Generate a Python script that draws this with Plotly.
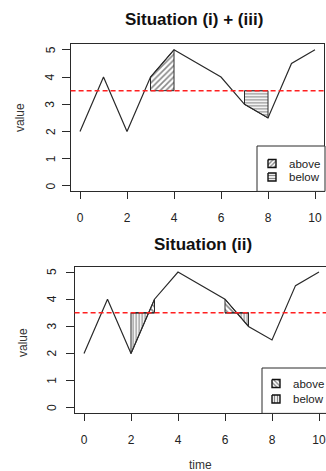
import plotly.graph_objects as go

# ---- data ----
time = [0, 1, 2, 3, 4, 5, 6, 7, 8, 9, 10]
value = [2, 4, 2, 4, 5, 4.5, 4, 3, 2.5, 4.5, 5]
threshold = 3.5
x_ticks = [0, 2, 4, 6, 8, 10]
y_ticks = [0, 1, 2, 3, 4, 5]

# shading intervals
top_above = [(3, 4)]
top_below = [(7, 8)]
bottom_intervals = [(2, 3), (6, 7)]

titles = ["Situation (i) + (iii)", "Situation (ii)"]
legend_labels = ["above", "below"]

W, H = 326, 471
FONT = "Liberation Sans, Arial, sans-serif"
LINE = "#2a2a2a"


def region(t0, t1, side):
    pts = [(t, v) for t, v in zip(time, value) if t0 <= t <= t1]
    seq = []
    for (ta, va), (tb, vb) in zip(pts[:-1], pts[1:]):
        seq.append((ta, va))
        if (va - threshold) * (vb - threshold) < 0:
            tc = ta + (threshold - va) * (tb - ta) / (vb - va)
            seq.append((tc, threshold))
    seq.append(pts[-1])
    if side == "above":
        seq = [(t, max(v, threshold)) for t, v in seq]
    else:
        seq = [(t, min(v, threshold)) for t, v in seq]
    poly = [(t0, threshold)] + seq + [(t1, threshold), (t0, threshold)]
    return [p[0] for p in poly], [p[1] for p in poly]


def pat(shape, size, sol=0.4):
    return dict(shape=shape, fgcolor="#111111", bgcolor="rgba(0,0,0,0)",
                size=size, solidity=sol)


fig = go.Figure()

# ---- top panel ----
for t0, t1 in top_above:
    xs, ys = region(t0, t1, "above")
    fig.add_trace(go.Scatter(x=xs, y=ys, mode="lines", fill="toself",
                             fillcolor="rgba(0,0,0,0)", fillpattern=pat("/", 4),
                             line=dict(color=LINE, width=1), xaxis="x", yaxis="y",
                             showlegend=False, hoverinfo="skip"))
for t0, t1 in top_below:
    xs, ys = region(t0, t1, "below")
    fig.add_trace(go.Scatter(x=xs, y=ys, mode="lines", fill="toself",
                             fillcolor="rgba(0,0,0,0)", fillpattern=pat("-", 3),
                             line=dict(color=LINE, width=1), xaxis="x", yaxis="y",
                             showlegend=False, hoverinfo="skip"))
fig.add_trace(go.Scatter(x=time, y=value, mode="lines",
                         line=dict(color=LINE, width=1.2), xaxis="x", yaxis="y",
                         showlegend=False))

# ---- bottom panel ----
for t0, t1 in bottom_intervals:
    xs, ys = region(t0, t1, "above")
    fig.add_trace(go.Scatter(x=xs, y=ys, mode="lines", fill="toself",
                             fillcolor="rgba(0,0,0,0)", fillpattern=pat("\\", 4),
                             line=dict(color=LINE, width=1), xaxis="x2", yaxis="y2",
                             showlegend=False, hoverinfo="skip"))
    xs, ys = region(t0, t1, "below")
    fig.add_trace(go.Scatter(x=xs, y=ys, mode="lines", fill="toself",
                             fillcolor="rgba(0,0,0,0)", fillpattern=pat("|", 3),
                             line=dict(color=LINE, width=1), xaxis="x2", yaxis="y2",
                             showlegend=False, hoverinfo="skip"))
fig.add_trace(go.Scatter(x=time, y=value, mode="lines",
                         line=dict(color=LINE, width=1.2), xaxis="x2", yaxis="y2",
                         showlegend=False))

# ---- threshold lines ----
for xr, yr in [("x", "y"), ("x2", "y2")]:
    fig.add_shape(type="line", xref=xr + " domain", yref=yr, x0=0, x1=1,
                  y0=threshold, y1=threshold, layer="above",
                  line=dict(color="#ff2020", width=1.5, dash="5px,3px"))

# ---- manual legends (pixel overlay axis) ----
legends = [
    dict(box=(257, 146, 325, 191.4), ix=272, tx=286.5, rows=(163.5, 177),
         pats=[pat("/", 3, 0.45), pat("-", 3, 0.45)]),
    dict(box=(262, 368, 340, 413.4), ix=276, tx=290.5, rows=(383.5, 399),
         pats=[pat("\\", 3, 0.45), pat("|", 3, 0.45)]),
]
for lg in legends:
    x0, y0, x1, y1 = lg["box"]
    fig.add_shape(type="rect", xref="x3", yref="y3", x0=x0, y0=y0, x1=x1, y1=y1,
                  line=dict(color=LINE, width=1), fillcolor="white", layer="below")
    for label, ry, p in zip(legend_labels, lg["rows"], lg["pats"]):
        s = 4
        cx = lg["ix"]
        fig.add_trace(go.Scatter(x=[cx - s, cx + s, cx + s, cx - s, cx - s],
                                 y=[ry - s, ry - s, ry + s, ry + s, ry - s],
                                 mode="lines", fill="toself",
                                 fillcolor="rgba(0,0,0,0)", fillpattern=p,
                                 line=dict(color="#111", width=1.4),
                                 xaxis="x3", yaxis="y3", showlegend=False,
                                 hoverinfo="skip"))
        fig.add_annotation(x=lg["tx"], y=ry, xref="x3", yref="y3", text=label,
                           showarrow=False, xanchor="left", yanchor="middle",
                           font=dict(family=FONT, size=11.5, color="#222"))

# ---- titles and axis labels ----
def px(x):
    return x / W


def py(y):
    return 1 - y / H


fig.add_annotation(x=px(194), y=py(20), xref="paper", yref="paper",
                   text="<b>" + titles[0] + "</b>",
                   showarrow=False, font=dict(family=FONT, size=17, color="#111"),
                   xanchor="center", yanchor="middle")
fig.add_annotation(x=px(203), y=py(244), xref="paper", yref="paper",
                   text="<b>" + titles[1] + "</b>",
                   showarrow=False, font=dict(family=FONT, size=17, color="#111"),
                   xanchor="center", yanchor="middle")
for yy, xx in ((118, 20), (343, 23)):
    fig.add_annotation(x=px(xx), y=py(yy), xref="paper", yref="paper", text="value",
                       showarrow=False, textangle=-90,
                       font=dict(family=FONT, size=12, color="#333"),
                       xanchor="center", yanchor="middle")
fig.add_annotation(x=px(200), y=py(465), xref="paper", yref="paper", text="time",
                   showarrow=False, font=dict(family=FONT, size=12, color="#333"),
                   xanchor="center", yanchor="middle")

tickfont = dict(family=FONT, size=12, color="#222")

# rotated y tick labels (R style, reading bottom-to-top)
for yref, xx in (("y", 50.5), ("y2", 52)):
    for v in y_ticks:
        fig.add_annotation(x=px(xx), y=v, xref="paper", yref=yref, text=str(v),
                           showarrow=False, textangle=-90, font=tickfont,
                           xanchor="center", yanchor="middle")

xcommon = dict(tickmode="array", tickvals=x_ticks, ticks="outside", ticklen=7,
               tickcolor=LINE, showgrid=False, zeroline=False, showline=True,
               linecolor=LINE, linewidth=1, tickfont=tickfont,
               ticklabelstandoff=8, fixedrange=True)
ycommon = dict(tickmode="array", tickvals=y_ticks, ticks="outside", ticklen=8,
               tickcolor=LINE, showgrid=False, zeroline=False, showline=True,
               linecolor=LINE, linewidth=1, showticklabels=False,
               range=[-0.2, 5.2], fixedrange=True)

fig.update_layout(
    width=W, height=H, autosize=False,
    margin=dict(l=0, r=0, t=0, b=0),
    paper_bgcolor="white", plot_bgcolor="rgba(0,0,0,0)",
    showlegend=False,
    xaxis=dict(domain=[px(70.6), px(324.4)], range=[-0.4, 10.4], mirror=True,
               anchor="y", **xcommon),
    yaxis=dict(domain=[py(191.4), py(44.4)], mirror=True, anchor="x", **ycommon),
    xaxis2=dict(domain=[px(74.6), 1.0], range=[-0.4, (W - 84) / 23.5], mirror=True,
                anchor="y2", **xcommon),
    yaxis2=dict(domain=[py(413.4), py(266.6)], mirror=False, anchor="x2", **ycommon),
    xaxis3=dict(domain=[0, 1], range=[0, W], visible=False, fixedrange=True,
                anchor="y3"),
    yaxis3=dict(domain=[0, 1], range=[H, 0], visible=False, fixedrange=True,
                anchor="x3"),
)

fig.write_html("out.html", config={"displayModeBar": False},
               post_script="document.body.style.margin='0';"
                           "document.body.style.overflow='hidden';")
